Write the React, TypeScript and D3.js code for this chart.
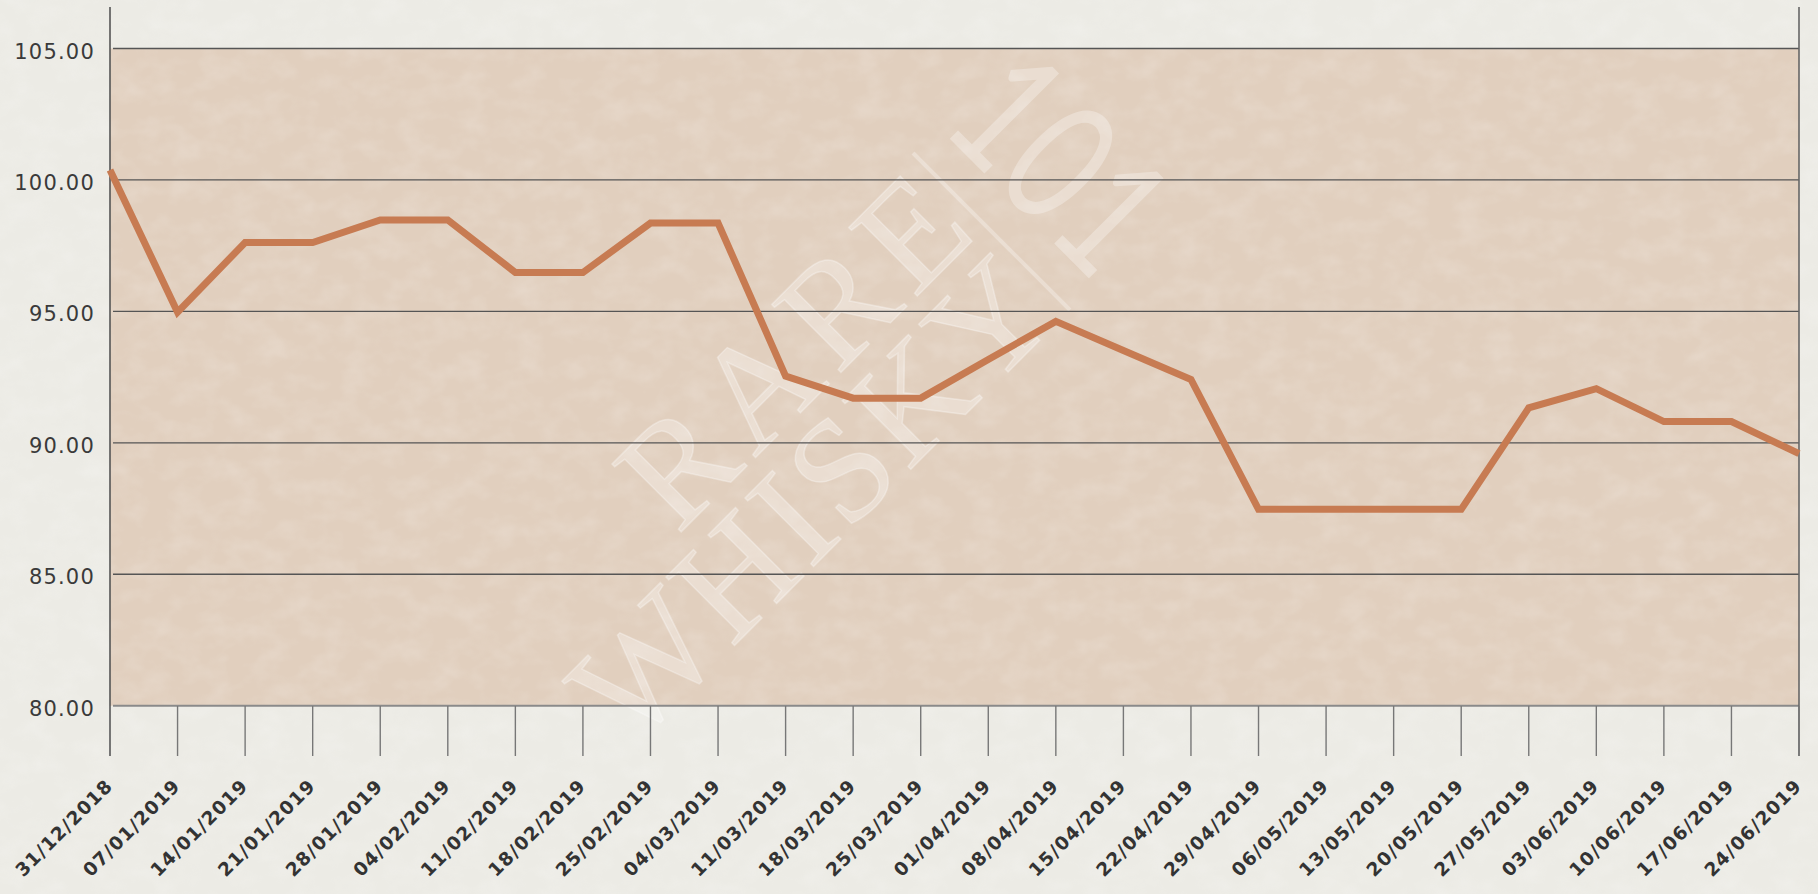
import React from "react";
import * as d3 from "d3";

const dates = [
  "31/12/2018", "07/01/2019", "14/01/2019", "21/01/2019", "28/01/2019", "04/02/2019",
  "11/02/2019", "18/02/2019", "25/02/2019", "04/03/2019", "11/03/2019", "18/03/2019",
  "25/03/2019", "01/04/2019", "08/04/2019", "15/04/2019", "22/04/2019", "29/04/2019",
  "06/05/2019", "13/05/2019", "20/05/2019", "27/05/2019", "03/06/2019", "10/06/2019",
  "17/06/2019", "24/06/2019",
];

const values = [
  100.38, 94.97, 97.62, 97.62, 98.48, 98.48,
  96.48, 96.48, 98.36, 98.36, 92.54, 91.7,
  91.7, 93.17, 94.62, 93.51, 92.41, 87.47,
  87.47, 87.47, 87.47, 91.33, 92.06, 90.81,
  90.81, 89.59,
];

const yTicks = [80, 85, 90, 95, 100, 105];

const W = 1818;
const H = 894;

export default function App() {
  const x = d3.scalePoint<string>().domain(dates).range([110, 1799]);
  const y = d3.scaleLinear().domain([80, 105]).range([705.7, 48.5]);

  const line = d3
    .line<number>()
    .x((_, i) => x(dates[i]) as number)
    .y((d) => y(d));

  const wmFill = "rgba(255,255,255,0.3)";
  const x0 = x(dates[0]) as number;
  const x1 = x(dates[dates.length - 1]) as number;

  return (
    <div style={{ position: "fixed", left: 0, top: 0, width: W, height: H }}>
      <svg width={W} height={H} style={{ display: "block" }}>
        <defs>
          <filter id="paper" x="0" y="0" width="100%" height="100%">
            <feTurbulence type="fractalNoise" baseFrequency="0.035 0.05" numOctaves="3" seed="7" result="n" />
            <feColorMatrix
              in="n"
              type="matrix"
              values="0 0 0 0 1  0 0 0 0 1  0 0 0 0 1  0 0 0 1.4 -0.55"
            />
          </filter>
        </defs>
        <rect x={0} y={0} width={W} height={H} fill="#ecebe5" />
        <rect x={x0} y={y(105)} width={x1 - x0} height={y(80) - y(105)} fill="#e1cfbe" />
        <rect x={0} y={0} width={W} height={H} filter="url(#paper)" opacity={0.22} />

        {/* watermark */}
        <g transform="translate(913,153) rotate(-45)" style={{ pointerEvents: "none" }}>
          <line x1={0} y1={0} x2={0} y2={222} stroke={wmFill} strokeWidth={4} />
          <text
            x={-12}
            y={104}
            textAnchor="end"
            fontFamily="'Liberation Serif', 'DejaVu Serif', serif"
            fontSize={148}
            fill={wmFill}
            stroke={wmFill}
            strokeWidth={1.5}
            textLength={425}
            lengthAdjust="spacing"
          >
            RARE
          </text>
          <text
            x={-12}
            y={222}
            textAnchor="end"
            fontFamily="'Liberation Serif', 'DejaVu Serif', serif"
            fontSize={148}
            fill={wmFill}
            stroke={wmFill}
            strokeWidth={1.5}
            textLength={610}
            lengthAdjust="spacing"
          >
            WHISKY
          </text>
          <text
            transform="translate(36,0) rotate(90)"
            x={0}
            y={0}
            fontFamily="Lato, 'Open Sans', sans-serif"
            fontWeight={400}
            fontSize={172}
            fill={wmFill}
            textLength={222}
            lengthAdjust="spacingAndGlyphs"
          >
            101
          </text>
        </g>

        {/* gridlines */}
        {yTicks.map((t) => (
          <line
            key={"g" + t}
            x1={113}
            x2={1799}
            y1={y(t)}
            y2={y(t)}
            stroke={t === 80 ? "#8a8a8a" : "#555"}
            strokeWidth={t === 80 ? 2 : 1.3}
          />
        ))}

        {/* axes verticals */}
        <line x1={110} x2={110} y1={7} y2={756} stroke="#555" strokeWidth={1.6} />
        <line x1={1799} x2={1799} y1={7} y2={756} stroke="#666" strokeWidth={1.6} />

        {/* x ticks */}
        {dates.map((d) => (
          <line
            key={"t" + d}
            x1={x(d) as number}
            x2={x(d) as number}
            y1={706}
            y2={756}
            stroke="#777"
            strokeWidth={1.4}
          />
        ))}

        {/* y labels */}
        {yTicks.map((t) => (
          <text
            key={"yl" + t}
            x={95}
            y={y(t) + 10}
            textAnchor="end"
            fontFamily="'DejaVu Sans', sans-serif"
            fontSize={21}
            letterSpacing={1.2}
            fill="#3a3a3a"
          >
            {t.toFixed(2)}
          </text>
        ))}

        {/* x labels */}
        {dates.map((d) => (
          <text
            key={"xl" + d}
            transform={`translate(${(x(d) as number) + 4},787) rotate(-45)`}
            textAnchor="end"
            fontFamily="'DejaVu Sans', sans-serif"
            fontWeight="bold"
            fontSize={18.5}
            letterSpacing={1.2}
            fill="#333"
          >
            {d}
          </text>
        ))}

        {/* data line */}
        <path
          d={line(values) || ""}
          fill="none"
          stroke="#c77b52"
          strokeWidth={7}
          strokeLinejoin="miter"
        />
      </svg>
    </div>
  );
}
